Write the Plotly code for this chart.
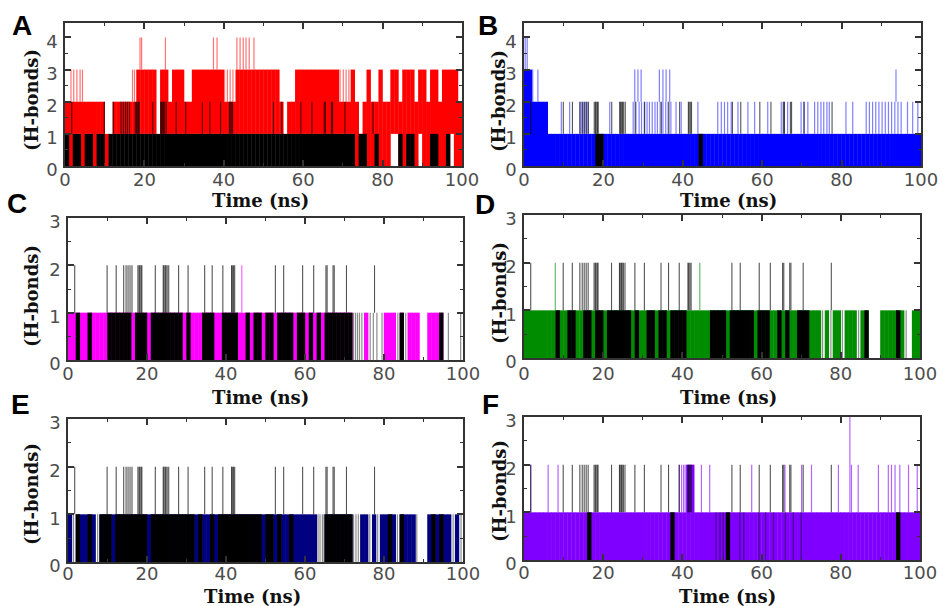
import plotly.graph_objects as go

# ---------------- data ----------------
time_ns = [i + 0.5 for i in range(100)]          # 1-ns bins, centres
x_ticks = [0, 20, 40, 60, 80, 100]
x_tick_labels = ["0", "20", "40", "60", "80", "100"]
x_minor = [10, 30, 50, 70, 90]
y_ticks_4 = [0, 1, 2, 3, 4]
y_ticks_3 = [0, 1, 2, 3]
panel_letters = ["A", "B", "C", "D", "E", "F"]
x_title = "Time (ns)"
y_title = "(H-bonds)"

# reference (black) thin excursions to 2 H-bonds, common to all panels
ref_spk_t = [1.7, 9.9, 12.2, 14.1, 14.7, 15.2, 15.7, 16.2, 17.7, 18.0, 18.2, 18.5, 18.7,
             22.1, 24.1, 24.3, 24.6, 24.8, 25.1, 25.5, 28.0, 30.4, 34.6, 36.5, 39.2,
             41.4, 41.6, 41.9, 42.2, 52.5, 54.6, 59.4, 62.2, 65.3, 65.6, 67.1, 67.4,
             70.5, 77.6]
ref_spk_h = [2] * len(ref_spk_t)

# ---- Panel A (red) ----
A_red_max = [2, 2, 2, 2, 2, 2, 2, 2, 2, 2,
             1, 1, 2, 2, 2, 2, 2, 2, 3, 3,
             3, 3, 3, 1, 3, 3, 2, 3, 3, 3,
             2, 2, 3, 3, 3, 3, 3, 3, 3, 3,
             2, 2, 2, 3, 3, 3, 3, 3, 3, 3,
             3, 3, 3, 3, 2, 1, 2, 2, 3, 3,
             3, 3, 3, 3, 3, 3, 3, 3, 3, 2,
             2, 2, 3, 2, 1, 2, 3, 2, 2, 3,
             2, 2, 3, 3, 2, 3, 3, 3, 2, 3,
             3, 2, 3, 3, 2, 3, 3, 3, 3, 2]
A_red_min = [1, 0, 1, 1, 0, 1, 1, 0, 1, 1,
             0, 1, 1, 1, 1, 1, 1, 1, 1, 1,
             1, 1, 1, 1, 1, 1, 1, 1, 1, 1,
             1, 1, 1, 1, 1, 1, 1, 1, 1, 1,
             1, 1, 1, 1, 1, 1, 1, 1, 1, 1,
             1, 1, 1, 1, 1, 1, 1, 1, 1, 1,
             1, 1, 1, 1, 1, 1, 1, 1, 1, 1,
             1, 1, 1, 0, 0, 0, 0, 0, 0, 0,
             0, 0, 1, 1, 0, 0, 0, 0, 0, 1,
             0, 0, 0, 0, 0, 0, 0, 1, 0, 0]
A_black = [1, 0, 1, 1, 0, 1, 1, 0, 1, 1,
           0, 1, 1, 1, 1, 1, 1, 1, 1, 1,
           1, 1, 1, 1, 1, 1, 1, 1, 1, 1,
           1, 1, 1, 1, 1, 1, 1, 1, 1, 1,
           1, 1, 1, 1, 1, 1, 1, 1, 1, 1,
           1, 1, 1, 1, 1, 1, 1, 1, 1, 1,
           1, 1, 1, 1, 1, 1, 1, 1, 1, 1,
           1, 1, 1, 0, 1, 1, 0, 0, 1, 0,
           0, 0, 0, 0, 1, 0, 1, 1, 0, 0,
           0, 0, 1, 1, 0, 0, 1, 0, 0, 0]
A_red_spk_t = [1.5, 2.2, 3.0, 3.8, 4.4, 17.0, 17.5, 40.2, 40.9, 41.6, 42.3,
               69.3, 70.1, 70.8, 71.5,
               18.9, 19.3, 25.3, 37.4, 38.3, 43.3, 44.1, 44.9, 45.6, 46.4, 47.6]
A_red_spk_h = [3, 3, 3, 3, 3, 3, 3, 3, 3, 3, 3, 3, 3, 3, 3,
               4, 4, 4, 4, 4, 4, 4, 4, 4, 4, 4]
A_grey_t = []

# ---- Panel B (blue) ----
B_blue_max = [3, 3, 2, 2, 2, 2, 1, 1, 1, 1,
              1, 1, 1, 1, 1, 1, 1, 1, 1, 1,
              1, 1, 1, 1, 1, 1, 1, 1, 1, 1,
              1, 1, 1, 1, 1, 1, 1, 1, 1, 1,
              1, 1, 1, 1, 1, 1, 1, 1, 1, 1,
              1, 1, 1, 1, 1, 1, 1, 1, 1, 1,
              1, 1, 1, 1, 1, 1, 1, 1, 1, 1,
              1, 1, 1, 1, 1, 1, 1, 1, 1, 1,
              1, 1, 1, 1, 1, 1, 1, 1, 1, 1,
              1, 1, 1, 1, 1, 1, 1, 1, 1, 1]
B_black = [0] * 18 + [1, 1] + [0] * 24 + [1] + [0] * 55
B_blue_spk_t = [9.4, 11.5, 14.1, 14.6, 15.1, 15.6, 16.1, 21.6, 27.5, 28.2, 29.0, 29.6,
                30.3, 31.0, 31.6, 32.3, 33.0, 33.6, 34.3, 35.0, 35.7, 36.3, 37.0, 38.3,
                39.6, 43.8, 48.8, 49.7, 50.5, 51.3, 52.2, 53.9, 56.4, 58.1, 61.4, 64.8,
                65.5, 66.4, 69.8, 70.6, 71.5, 73.2, 74.0, 74.8, 75.5, 76.3, 76.9, 81.1,
                82.8, 86.2, 87.0, 87.8, 88.6, 89.4, 90.2, 91.0, 91.8, 92.6, 93.4, 94.2,
                95.0, 96.6, 97.9, 99.2,
                2.2, 3.5, 27.9, 28.7, 29.5, 34.1, 35.0, 35.8, 36.7, 93.7,
                0.3, 0.8]
B_blue_spk_h = [2] * 64 + [3] * 10 + [4] * 2
B_grey_t = []

# ---- Panel C (magenta) ----
C_mag = [1, 1, 1, 1, 1, 1, 1, 1, 1, 1,
         1, 1, 1, 1, 1, 1, 1, 1, 1, 1,
         1, 1, 1, 1, 1, 1, 1, 1, 1, 1,
         1, 1, 1, 1, 1, 1, 1, 1, 1, 1,
         1, 1, 1, 1, 1, 1, 1, 1, 1, 1,
         1, 1, 1, 1, 1, 1, 1, 1, 1, 1,
         1, 1, 1, 1, 1, 1, 1, 1, 1, 1,
         1, 1, 0, 0, 0, 1, 0, 0, 0, 0,
         1, 1, 1, 0, 1, 0, 1, 1, 1, 0,
         0, 1, 1, 1, 1, 0, 0, 0, 0, 0]
C_black = [0, 0, 1, 0, 0, 1, 0, 0, 0, 0,
           1, 1, 1, 1, 1, 1, 0, 1, 1, 1,
           0, 1, 1, 1, 1, 1, 1, 1, 1, 0,
           1, 0, 0, 0, 1, 1, 1, 0, 0, 1,
           1, 1, 1, 0, 0, 1, 0, 1, 1, 0,
           1, 1, 0, 1, 1, 1, 1, 0, 1, 1,
           0, 1, 0, 1, 0, 1, 1, 1, 1, 1,
           1, 1, 0, 0, 0, 0, 0, 0, 0, 0,
           0, 0, 0, 0, 1, 0, 0, 0, 0, 0,
           0, 0, 0, 0, 1, 0, 0, 0, 0, 0]
C_mag_spk_t = [44.0]
C_mag_spk_h = [2]
C_grey_t = [72.3, 72.8, 73.3, 73.8, 74.4, 76.5, 77.3, 78.2, 79.5, 83.5, 85.5, 96.3, 99.4]

# ---- Panel D (green) ----
D_green = [1, 1, 1, 1, 1, 1, 1, 1, 1, 1,
           1, 1, 1, 1, 1, 1, 1, 1, 1, 1,
           1, 1, 1, 1, 1, 1, 1, 1, 1, 1,
           1, 1, 1, 1, 1, 1, 1, 1, 1, 1,
           1, 1, 1, 1, 1, 1, 1, 1, 1, 1,
           1, 1, 1, 1, 1, 1, 1, 1, 1, 1,
           1, 1, 1, 1, 1, 1, 1, 1, 1, 1,
           1, 1, 1, 1, 1, 0, 1, 0, 1, 1,
           0, 1, 1, 1, 0, 1, 1, 0, 0, 0,
           1, 1, 1, 1, 1, 1, 0, 0, 1, 1]
D_black = [0, 0, 0, 0, 0, 0, 0, 0, 1, 0,
           0, 1, 1, 0, 0, 1, 1, 0, 1, 1,
           0, 1, 1, 1, 1, 1, 1, 0, 1, 0,
           0, 1, 1, 0, 1, 1, 0, 1, 1, 1,
           1, 0, 0, 0, 0, 0, 0, 1, 1, 1,
           1, 0, 1, 1, 1, 1, 1, 1, 0, 1,
           1, 1, 0, 0, 1, 0, 1, 0, 0, 1,
           1, 1, 0, 0, 0, 0, 0, 0, 0, 0,
           0, 0, 0, 0, 0, 0, 1, 0, 0, 0,
           0, 0, 0, 0, 1, 0, 0, 0, 0, 0]
D_green_spk_t = [7.9, 44.4]
D_green_spk_h = [2, 2]
D_grey_t = [75.4, 77.5, 80.4, 84.5, 96.5]

# ---- Panel E (navy) ----
E_navy = [1, 0, 1, 1, 1, 1, 1, 0, 1, 1,
          1, 1, 1, 1, 1, 1, 1, 1, 1, 1,
          1, 1, 1, 1, 1, 1, 1, 1, 1, 1,
          1, 1, 1, 1, 1, 1, 1, 1, 1, 1,
          1, 1, 1, 1, 1, 1, 1, 1, 1, 1,
          1, 1, 1, 1, 1, 1, 1, 1, 1, 1,
          1, 1, 1, 0, 0, 1, 1, 1, 1, 1,
          1, 1, 0, 0, 1, 1, 0, 1, 0, 1,
          1, 1, 1, 0, 1, 1, 1, 1, 0, 0,
          0, 1, 1, 1, 1, 1, 1, 0, 1, 0]
E_black = [0, 0, 1, 0, 0, 1, 0, 0, 1, 1,
           1, 0, 1, 1, 1, 1, 1, 1, 1, 1,
           0, 1, 1, 1, 1, 1, 1, 1, 1, 1,
           1, 1, 0, 1, 0, 0, 1, 0, 1, 1,
           1, 1, 1, 1, 1, 1, 1, 1, 1, 0,
           1, 1, 0, 1, 0, 0, 1, 0, 0, 0,
           0, 0, 0, 0, 0, 1, 1, 1, 1, 1,
           1, 1, 0, 0, 0, 0, 0, 0, 0, 0,
           0, 1, 0, 0, 1, 0, 0, 0, 0, 0,
           0, 0, 1, 0, 1, 0, 0, 0, 0, 0]
E_navy_spk_t = []
E_navy_spk_h = []
E_grey_t = [1.4, 7.5, 63.3, 63.8, 64.4, 64.8, 72.3, 72.9, 73.5, 76.4, 78.4, 83.4,
            88.3, 97.5, 99.5]

# ---- Panel F (violet) ----
F_violet = [1] * 41 + [2, 2] + [1] * 57
F_black = [0] * 16 + [1] + [0] * 20 + [1] + [0] * 13 + [1] + [0] * 42 + [1] + [0] * 5
F_violet_spk_t = [1.7, 6.1, 8.6, 39.2, 39.8, 40.3, 40.7, 44.8, 46.9, 57.5, 65.9, 70.1,
                  72.6, 79.4, 82.3, 82.7, 84.4, 89.5, 92.0, 92.8, 93.7, 94.9, 97.1, 99.3,
                  82.3]
F_violet_spk_h = [2] * 24 + [3]
F_grey_t = [48.5, 49.5, 50.3, 54.5, 55.5, 59.3, 61.0, 63.0, 66.0, 68.0, 70.0]

# ---------------- layout geometry (pixels) ----------------
W, H = 943, 606
panels = [
    dict(L="A", x0=65, x1=462, yt=23, yb=166, ymax=4.45, yt_vals=y_ticks_4,
         lig=A_red_max, lmin=A_red_min, col="#FF0000", rgba="rgba(255,0,0,0.55)",
         ref=A_black, st=A_red_spk_t, sh=A_red_spk_h, grey=A_grey_t,
         lp=(22, 25), yl=(31, 100), xl=(260, 200), so=-3),
    dict(L="B", x0=524, x1=921, yt=23, yb=166, ymax=4.45, yt_vals=y_ticks_4,
         lig=B_blue_max, lmin=None, col="#0000FF", rgba="rgba(0,0,255,0.5)",
         ref=B_black, st=B_blue_spk_t, sh=B_blue_spk_h, grey=B_grey_t,
         lp=(488, 25), yl=(499, 101), xl=(728, 200), so=-3),
    dict(L="C", x0=68, x1=463, yt=218, yb=360, ymax=3, yt_vals=y_ticks_3,
         lig=C_mag, lmin=None, col="#FF00FF", rgba="rgba(255,0,255,0.6)",
         ref=C_black, st=C_mag_spk_t, sh=C_mag_spk_h, grey=C_grey_t,
         lp=(17, 203), yl=(31, 296), xl=(260, 397), so=-3),
    dict(L="D", x0=524, x1=920, yt=215, yb=358, ymax=3, yt_vals=y_ticks_3,
         lig=D_green, lmin=None, col="#008C00", rgba="rgba(0,140,0,0.6)",
         ref=D_black, st=D_green_spk_t, sh=D_green_spk_h, grey=D_grey_t,
         lp=(485, 204), yl=(499, 293), xl=(728, 397), so=-1),
    dict(L="E", x0=68, x1=463, yt=419, yb=562, ymax=3, yt_vals=y_ticks_3,
         lig=E_navy, lmin=None, col="#000080", rgba="rgba(0,0,128,0.6)",
         ref=E_black, st=E_navy_spk_t, sh=E_navy_spk_h, grey=E_grey_t,
         lp=(20, 404), yl=(31, 494), xl=(252, 596), so=-5),
    dict(L="F", x0=524, x1=920, yt=417, yb=560, ymax=3, yt_vals=y_ticks_3,
         lig=F_violet, lmin=None, col="#8000FF", rgba="rgba(128,0,255,0.6)",
         ref=F_black, st=F_violet_spk_t, sh=F_violet_spk_h, grey=F_grey_t,
         lp=(490, 404), yl=(499, 491), xl=(727, 596), so=-4),
]


def seg_xy(ts, hs):
    xs, ys = [], []
    for t, h in zip(ts, hs):
        xs += [t, t, None]
        ys += [h - 1, h, None]
    return xs, ys


fig = go.Figure()
layout = dict(width=W, height=H, margin=dict(l=0, r=0, t=0, b=0, autoexpand=False),
              paper_bgcolor="white", plot_bgcolor="white", showlegend=False,
              barmode="overlay", annotations=[])

tickfont = dict(family="DejaVu Sans", size=18, color="#4d4d4d")
titlefont = dict(family="DejaVu Serif", size=18, color="#111111")
letterfont = dict(family="Liberation Sans, Arial", size=28, color="#000000")

for i, p in enumerate(panels):
    n = "" if i == 0 else str(i + 1)
    xa, ya = "x" + n, "y" + n

    if p["lmin"] is None:
        base = [0] * len(p["lig"])
    else:
        base = p["lmin"]
    heights = [mx - mn for mx, mn in zip(p["lig"], base)]
    fig.add_trace(go.Bar(x=time_ns, y=heights, base=base, width=1.1,
                         marker=dict(color=p["col"], line=dict(width=0)),
                         xaxis=xa, yaxis=ya, hoverinfo="skip"))
    fig.add_trace(go.Bar(x=time_ns, y=p["ref"], width=1.1,
                         marker=dict(color="#000000", line=dict(width=0)),
                         xaxis=xa, yaxis=ya, hoverinfo="skip"))
    if p["grey"]:
        gx, gy = seg_xy(p["grey"], [1] * len(p["grey"]))
        fig.add_trace(go.Scatter(x=gx, y=gy, mode="lines",
                                 line=dict(color="rgba(0,0,0,0.45)", width=1.2),
                                 xaxis=xa, yaxis=ya, hoverinfo="skip"))
    if p["st"]:
        sx, sy = seg_xy(p["st"], p["sh"])
        fig.add_trace(go.Scatter(x=sx, y=sy, mode="lines",
                                 line=dict(color=p["rgba"], width=1.2),
                                 xaxis=xa, yaxis=ya, hoverinfo="skip"))
    rx, ry = seg_xy(ref_spk_t, ref_spk_h)
    fig.add_trace(go.Scatter(x=rx, y=ry, mode="lines",
                             line=dict(color="rgba(0,0,0,0.68)", width=1.1),
                             xaxis=xa, yaxis=ya, hoverinfo="skip"))

    common = dict(showline=True, linecolor="#333333", linewidth=1.5, mirror="allticks",
                  ticks="inside", tickcolor="#333333", tickwidth=1.5, showgrid=False,
                  zeroline=False, tickfont=tickfont, fixedrange=True, automargin=False)
    layout["xaxis" + n] = dict(
        domain=[p["x0"] / W, p["x1"] / W], anchor=ya, range=[0, 100],
        tickmode="array", tickvals=x_ticks, ticktext=x_tick_labels, ticklen=6,
        ticklabelstandoff=p["so"],
        minor=dict(tickmode="array", tickvals=x_minor, ticks="inside", ticklen=3,
                   tickwidth=1, tickcolor="#333333"),
        **common)
    ymax = p["ymax"]
    layout["yaxis" + n] = dict(
        domain=[1 - p["yb"] / H, 1 - p["yt"] / H], anchor=xa, range=[0, ymax],
        tickmode="array", tickvals=p["yt_vals"], ticktext=[str(v) for v in p["yt_vals"]],
        ticklen=6, ticklabelstandoff=2, ticklabelshift=4,
        minor=dict(tickmode="array", tickvals=[v + 0.5 for v in p["yt_vals"] if v + 0.5 < ymax],
                   ticks="inside", ticklen=3, tickwidth=1, tickcolor="#333333"),
        **common)

    layout["annotations"] += [
        dict(text="<b>%s</b>" % panel_letters[i], x=p["lp"][0] / W, y=1 - p["lp"][1] / H,
             xref="paper", yref="paper", xanchor="center", yanchor="middle",
             showarrow=False, font=letterfont),
        dict(text="<b>%s</b>" % y_title, x=p["yl"][0] / W, y=1 - p["yl"][1] / H,
             xref="paper", yref="paper", xanchor="center", yanchor="middle",
             textangle=-90, showarrow=False, font=titlefont),
        dict(text="<b>%s</b>" % x_title, x=p["xl"][0] / W, y=1 - p["xl"][1] / H,
             xref="paper", yref="paper", xanchor="center", yanchor="middle",
             showarrow=False, font=titlefont),
    ]

fig.update_layout(**layout)
fig.write_html("out.html", config={"displayModeBar": False},
               post_script="document.body.style.margin='0';"
                           "document.body.style.overflow='hidden';")
